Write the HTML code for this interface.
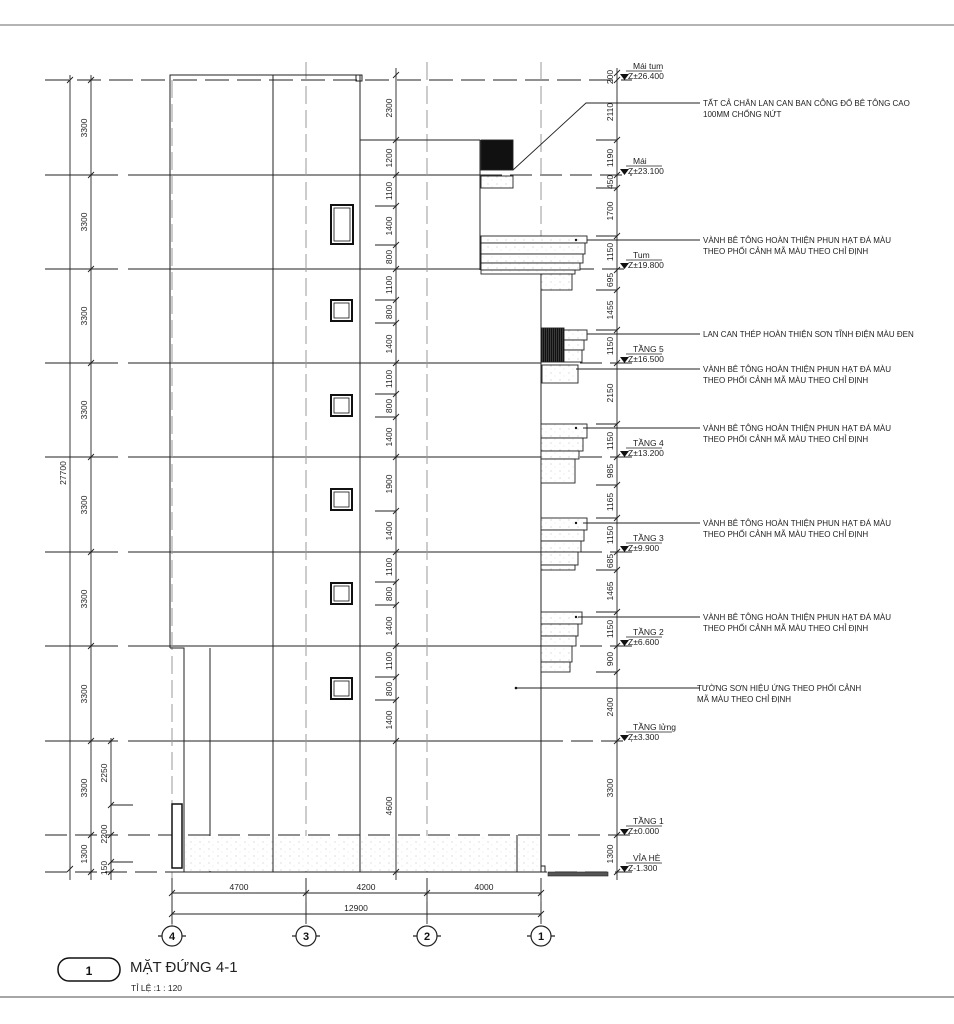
<!DOCTYPE html>
<html><head><meta charset="utf-8"><style>
html,body{margin:0;padding:0;background:#fff;}
svg{display:block;font-family:"Liberation Sans",sans-serif;}
</style></head><body>
<svg width="954" height="1024" viewBox="0 0 954 1024" xmlns="http://www.w3.org/2000/svg">
<defs>
<pattern id="dots" width="9" height="7" patternUnits="userSpaceOnUse"><rect width="9" height="7" fill="#fff"/><circle cx="2" cy="2" r="0.5" fill="#aaa"/><circle cx="6" cy="5" r="0.4" fill="#bbb"/></pattern>
<pattern id="blk" width="2" height="4" patternUnits="userSpaceOnUse"><rect width="2" height="4" fill="#111"/><rect width="0.6" height="4" fill="#555"/></pattern>
</defs>
<!-- frame -->
<line x1="0" y1="25" x2="954" y2="25" stroke="#888" stroke-width="1.2"/>
<line x1="0" y1="997" x2="954" y2="997" stroke="#888" stroke-width="1.5"/>

<g stroke="#222" stroke-width="1" fill="none">
<!-- level lines -->
<line x1="45" y1="80" x2="632" y2="80" stroke-dasharray="24,8"/>
<g>
<line x1="45" y1="175" x2="118" y2="175"/><line x1="128" y1="175" x2="480" y2="175"/><line x1="480" y1="175" x2="632" y2="175" stroke-dasharray="22,8"/>
<line x1="45" y1="269" x2="118" y2="269"/><line x1="128" y1="269" x2="541" y2="269"/><line x1="572" y1="269" x2="632" y2="269" stroke-dasharray="22,8"/>
<line x1="45" y1="363" x2="118" y2="363"/><line x1="128" y1="363" x2="541" y2="363"/><line x1="580" y1="363" x2="632" y2="363" stroke-dasharray="22,8"/>
<line x1="45" y1="457" x2="118" y2="457"/><line x1="128" y1="457" x2="541" y2="457"/><line x1="580" y1="457" x2="632" y2="457" stroke-dasharray="22,8"/>
<line x1="45" y1="552" x2="118" y2="552"/><line x1="128" y1="552" x2="541" y2="552"/><line x1="580" y1="552" x2="632" y2="552" stroke-dasharray="22,8"/>
<line x1="45" y1="646" x2="118" y2="646"/><line x1="128" y1="646" x2="541" y2="646"/><line x1="580" y1="646" x2="632" y2="646" stroke-dasharray="22,8"/>
<line x1="45" y1="741" x2="118" y2="741"/><line x1="128" y1="741" x2="541" y2="741"/><line x1="541" y1="741" x2="632" y2="741" stroke-dasharray="22,8"/>
<line x1="45" y1="835" x2="118" y2="835" stroke-dasharray="22,8"/><line x1="128" y1="835" x2="632" y2="835" stroke-dasharray="22,8"/>
<line x1="45" y1="872" x2="632" y2="872" stroke-dasharray="22,8"/>
</g>
<!-- grid dashed -->
<g stroke="#999" stroke-dasharray="18,6">
<line x1="306" y1="62" x2="306" y2="930"/><line x1="427" y1="62" x2="427" y2="930"/><line x1="541" y1="62" x2="541" y2="930"/><line x1="172" y1="80" x2="172" y2="930"/>
</g>
<!-- building -->
<polyline points="170,648 170,75 360,75 360,870"/>
<rect x="356" y="75" width="6" height="6"/>
<line x1="273" y1="75" x2="273" y2="872"/>
<polyline points="170,648 184,648 184,872"/>
<line x1="210" y1="648" x2="210" y2="872"/>
<line x1="360" y1="140" x2="480" y2="140"/>
<line x1="480" y1="140" x2="480" y2="270"/>
<line x1="541" y1="270" x2="541" y2="872"/>
<line x1="170" y1="872" x2="541" y2="872"/>
</g>
<!-- ground hatch -->
<rect x="185" y="836" width="355" height="35" fill="url(#dots)"/>
<g stroke="#222" fill="none"><line x1="273" y1="835" x2="273" y2="872"/><line x1="360" y1="835" x2="360" y2="872"/><line x1="517" y1="835" x2="517" y2="872"/></g>
<rect x="172" y="804" width="10" height="64" fill="#fff" stroke="#111" stroke-width="1.5"/>
<rect x="548" y="872" width="60" height="4" fill="#555" stroke="#222" stroke-width="0.6"/>
<polyline points="541,866 545,866 545,872" fill="none" stroke="#222"/>

<!-- windows -->
<g fill="#fff" stroke="#111">
<rect x="331" y="205" width="22" height="39" stroke-width="2"/><rect x="334" y="208" width="16" height="33" stroke-width="0.8"/>
<rect x="331" y="300" width="21" height="21" stroke-width="2"/><rect x="334" y="303" width="15" height="15" stroke-width="0.8"/>
<rect x="331" y="395" width="21" height="21" stroke-width="2"/><rect x="334" y="398" width="15" height="15" stroke-width="0.8"/>
<rect x="331" y="489" width="21" height="21" stroke-width="2"/><rect x="334" y="492" width="15" height="15" stroke-width="0.8"/>
<rect x="331" y="583" width="21" height="21" stroke-width="2"/><rect x="334" y="586" width="15" height="15" stroke-width="0.8"/>
<rect x="331" y="678" width="21" height="21" stroke-width="2"/><rect x="334" y="681" width="15" height="15" stroke-width="0.8"/>
</g>

<!-- balconies -->
<g stroke="#222" stroke-width="0.9" fill="url(#dots)">
<rect x="481" y="140" width="32" height="30" fill="#111"/>
<rect x="481" y="176" width="32" height="12"/>
<rect x="481" y="236" width="106" height="7"/><rect x="481" y="243" width="104" height="11"/><rect x="481" y="254" width="102" height="9"/><rect x="481" y="263" width="99" height="7"/><rect x="481" y="270" width="94" height="4"/>
<rect x="541" y="274" width="31" height="16"/>
<rect x="541" y="328" width="23" height="34" fill="url(#blk)"/>
<rect x="564" y="330" width="23" height="10"/><rect x="564" y="340" width="20" height="10"/><rect x="564" y="350" width="18" height="12"/>
<rect x="542" y="365" width="36" height="18"/>
<rect x="541" y="424" width="46" height="14"/><rect x="541" y="438" width="42" height="13"/><rect x="541" y="451" width="38" height="8"/><rect x="541" y="459" width="34" height="24"/>
<rect x="541" y="518" width="46" height="12"/><rect x="541" y="530" width="43" height="11"/><rect x="541" y="541" width="40" height="11"/><rect x="541" y="552" width="37" height="13"/><rect x="541" y="565" width="34" height="5"/>
<rect x="541" y="612" width="41" height="12"/><rect x="541" y="624" width="37" height="12"/><rect x="541" y="636" width="35" height="10"/><rect x="541" y="646" width="31" height="16"/><rect x="541" y="662" width="29" height="10"/>
</g>

<!-- dimension lines -->
<g stroke="#222" stroke-width="0.9" fill="none">
<line x1="70" y1="75" x2="70" y2="880"/><line x1="91" y1="75" x2="91" y2="880"/><line x1="111" y1="738" x2="111" y2="880"/>
<line x1="396" y1="68" x2="396" y2="880"/><line x1="617" y1="68" x2="617" y2="880"/>
<line x1="172" y1="893" x2="541" y2="893"/><line x1="172" y1="914" x2="541" y2="914"/>
<line x1="172" y1="878" x2="172" y2="924"/><line x1="306" y1="878" x2="306" y2="924"/><line x1="427" y1="878" x2="427" y2="924"/><line x1="541" y1="878" x2="541" y2="924"/>
<line x1="111" y1="805" x2="133" y2="805"/><line x1="111" y1="862" x2="133" y2="862"/>
<!-- ticks -->
<path d="M67,83 l6,-6 M67,872 l6,-6 M88,83 l6,-6 M88,178 l6,-6 M88,272 l6,-6 M88,366 l6,-6 M88,460 l6,-6 M88,555 l6,-6 M88,649 l6,-6 M88,744 l6,-6 M88,838 l6,-6 M88,875 l6,-6 M108,744 l6,-6 M108,808 l6,-6 M108,838 l6,-6 M108,865 l6,-6 M108,875 l6,-6"/>
<path d="M393,78 l6,-6 M393,143 l6,-6 M393,178 l6,-6 M393,209 l6,-6 M393,248 l6,-6 M393,272 l6,-6 M393,303 l6,-6 M393,326 l6,-6 M393,366 l6,-6 M393,397 l6,-6 M393,420 l6,-6 M393,460 l6,-6 M393,514 l6,-6 M393,555 l6,-6 M393,585 l6,-6 M393,608 l6,-6 M393,649 l6,-6 M393,680 l6,-6 M393,703 l6,-6 M393,744 l6,-6 M393,875 l6,-6"/>
<path d="M614,76 l6,-6 M614,83 l6,-6 M614,143 l6,-6 M614,178 l6,-6 M614,191 l6,-6 M614,239 l6,-6 M614,273 l6,-6 M614,293 l6,-6 M614,333 l6,-6 M614,366 l6,-6 M614,427 l6,-6 M614,460 l6,-6 M614,488 l6,-6 M614,521 l6,-6 M614,555 l6,-6 M614,573 l6,-6 M614,615 l6,-6 M614,649 l6,-6 M614,675 l6,-6 M614,744 l6,-6 M614,838 l6,-6 M614,875 l6,-6"/>
<path d="M169,896 l6,-6 M303,896 l6,-6 M424,896 l6,-6 M538,896 l6,-6 M169,917 l6,-6 M538,917 l6,-6"/>
<!-- dim extension stubs right -->
<path d="M596,140 h21 M596,188 h21 M596,236 h21 M596,290 h21 M596,330 h21 M596,424 h21 M596,485 h21 M596,518 h21 M596,570 h21 M596,612 h21 M596,672 h21 M375,206 h21 M375,245 h21 M375,300 h21 M375,323 h21 M375,394 h21 M375,417 h21 M375,511 h21 M375,582 h21 M375,605 h21 M375,677 h21 M375,700 h21"/>
</g>

<!-- dim labels -->
<g font-size="8.5" fill="#222" text-anchor="middle">
<text transform="translate(66,473) rotate(-90)">27700</text>
<text transform="translate(87,128) rotate(-90)">3300</text>
<text transform="translate(87,222) rotate(-90)">3300</text>
<text transform="translate(87,316) rotate(-90)">3300</text>
<text transform="translate(87,410) rotate(-90)">3300</text>
<text transform="translate(87,505) rotate(-90)">3300</text>
<text transform="translate(87,599) rotate(-90)">3300</text>
<text transform="translate(87,694) rotate(-90)">3300</text>
<text transform="translate(87,788) rotate(-90)">3300</text>
<text transform="translate(87,854) rotate(-90)">1300</text>
<text transform="translate(107,773) rotate(-90)">2250</text>
<text transform="translate(107,834) rotate(-90)">2200</text>
<text transform="translate(107,868) rotate(-90)">150</text>
<text transform="translate(392,108) rotate(-90)">2300</text>
<text transform="translate(392,158) rotate(-90)">1200</text>
<text transform="translate(392,191) rotate(-90)">1100</text>
<text transform="translate(392,226) rotate(-90)">1400</text>
<text transform="translate(392,257) rotate(-90)">800</text>
<text transform="translate(392,285) rotate(-90)">1100</text>
<text transform="translate(392,312) rotate(-90)">800</text>
<text transform="translate(392,344) rotate(-90)">1400</text>
<text transform="translate(392,379) rotate(-90)">1100</text>
<text transform="translate(392,406) rotate(-90)">800</text>
<text transform="translate(392,437) rotate(-90)">1400</text>
<text transform="translate(392,484) rotate(-90)">1900</text>
<text transform="translate(392,531) rotate(-90)">1400</text>
<text transform="translate(392,567) rotate(-90)">1100</text>
<text transform="translate(392,594) rotate(-90)">800</text>
<text transform="translate(392,626) rotate(-90)">1400</text>
<text transform="translate(392,661) rotate(-90)">1100</text>
<text transform="translate(392,689) rotate(-90)">800</text>
<text transform="translate(392,720) rotate(-90)">1400</text>
<text transform="translate(392,806) rotate(-90)">4600</text>
<text transform="translate(613,77) rotate(-90)">200</text>
<text transform="translate(613,112) rotate(-90)">2110</text>
<text transform="translate(613,158) rotate(-90)">1190</text>
<text transform="translate(613,182) rotate(-90)">450</text>
<text transform="translate(613,211) rotate(-90)">1700</text>
<text transform="translate(613,252) rotate(-90)">1150</text>
<text transform="translate(613,280) rotate(-90)">695</text>
<text transform="translate(613,310) rotate(-90)">1455</text>
<text transform="translate(613,346) rotate(-90)">1150</text>
<text transform="translate(613,393) rotate(-90)">2150</text>
<text transform="translate(613,441) rotate(-90)">1150</text>
<text transform="translate(613,471) rotate(-90)">985</text>
<text transform="translate(613,502) rotate(-90)">1165</text>
<text transform="translate(613,535) rotate(-90)">1150</text>
<text transform="translate(613,561) rotate(-90)">685</text>
<text transform="translate(613,591) rotate(-90)">1465</text>
<text transform="translate(613,629) rotate(-90)">1150</text>
<text transform="translate(613,659) rotate(-90)">900</text>
<text transform="translate(613,707) rotate(-90)">2400</text>
<text transform="translate(613,788) rotate(-90)">3300</text>
<text transform="translate(613,854) rotate(-90)">1300</text>
<text x="239" y="890">4700</text><text x="366" y="890">4200</text><text x="484" y="890">4000</text><text x="356" y="911">12900</text>
</g>

<!-- level markers -->
<g font-size="8.5" fill="#222">
<g stroke="#222" stroke-width="0.8">
<line x1="626" y1="71" x2="662" y2="71"/><line x1="626" y1="166" x2="662" y2="166"/><line x1="626" y1="260" x2="662" y2="260"/><line x1="626" y1="354" x2="662" y2="354"/><line x1="626" y1="448" x2="662" y2="448"/><line x1="626" y1="543" x2="662" y2="543"/><line x1="626" y1="637" x2="662" y2="637"/><line x1="626" y1="732" x2="672" y2="732"/><line x1="626" y1="826" x2="662" y2="826"/><line x1="626" y1="863" x2="662" y2="863"/>
</g>
<g fill="#111">
<path d="M620,74 h9 l-4.5,6z"/><path d="M620,169 h9 l-4.5,6z"/><path d="M620,263 h9 l-4.5,6z"/><path d="M620,357 h9 l-4.5,6z"/><path d="M620,451 h9 l-4.5,6z"/><path d="M620,546 h9 l-4.5,6z"/><path d="M620,640 h9 l-4.5,6z"/><path d="M620,735 h9 l-4.5,6z"/><path d="M620,829 h9 l-4.5,6z"/><path d="M620,866 h9 l-4.5,6z"/>
</g>
<text x="633" y="69">Mái tum</text><text x="628" y="79">Z±26.400</text>
<text x="633" y="164">Mái</text><text x="628" y="174">Z±23.100</text>
<text x="633" y="258">Tum</text><text x="628" y="268">Z±19.800</text>
<text x="633" y="352">TẦNG 5</text><text x="628" y="362">Z±16.500</text>
<text x="633" y="446">TẦNG 4</text><text x="628" y="456">Z±13.200</text>
<text x="633" y="541">TẦNG 3</text><text x="628" y="551">Z±9.900</text>
<text x="633" y="635">TẦNG 2</text><text x="628" y="645">Z±6.600</text>
<text x="633" y="730">TẦNG lửng</text><text x="628" y="740">Z±3.300</text>
<text x="633" y="824">TẦNG 1</text><text x="628" y="834">Z±0.000</text>
<text x="633" y="861">VỈA HÈ</text><text x="628" y="871">Z-1.300</text>
</g>

<!-- annotations -->
<g stroke="#222" stroke-width="0.9" fill="none">
<polyline points="513,170 586,103 700,103"/>
<line x1="587" y1="240" x2="700" y2="240"/>
<line x1="587" y1="334" x2="700" y2="334"/>
<line x1="576" y1="369" x2="700" y2="369"/>
<line x1="583" y1="428" x2="700" y2="428"/>
<line x1="583" y1="523" x2="700" y2="523"/>
<line x1="578" y1="617" x2="700" y2="617"/>
<line x1="516" y1="688" x2="700" y2="688"/>
</g>
<g fill="#111"><circle cx="516" cy="688" r="1.3"/><circle cx="576" cy="240" r="1.2"/><circle cx="576" cy="428" r="1.2"/><circle cx="576" cy="523" r="1.2"/><circle cx="576" cy="617" r="1.2"/></g>
<g font-size="8" fill="#222">
<text x="703" y="106">TẤT CẢ CHÂN LAN CAN BAN CÔNG ĐỔ BÊ TÔNG CAO</text><text x="703" y="117">100MM CHỐNG NỨT</text>
<text x="703" y="243">VÀNH BÊ TÔNG HOÀN THIỆN PHUN HẠT ĐÁ MÀU</text><text x="703" y="254">THEO PHỐI CẢNH MÃ MÀU THEO CHỈ ĐỊNH</text>
<text x="703" y="337">LAN CAN THÉP HOÀN THIỆN SƠN TĨNH ĐIỆN MÀU ĐEN</text>
<text x="703" y="372">VÀNH BÊ TÔNG HOÀN THIỆN PHUN HẠT ĐÁ MÀU</text><text x="703" y="383">THEO PHỐI CẢNH MÃ MÀU THEO CHỈ ĐỊNH</text>
<text x="703" y="431">VÀNH BÊ TÔNG HOÀN THIỆN PHUN HẠT ĐÁ MÀU</text><text x="703" y="442">THEO PHỐI CẢNH MÃ MÀU THEO CHỈ ĐỊNH</text>
<text x="703" y="526">VÀNH BÊ TÔNG HOÀN THIỆN PHUN HẠT ĐÁ MÀU</text><text x="703" y="537">THEO PHỐI CẢNH MÃ MÀU THEO CHỈ ĐỊNH</text>
<text x="703" y="620">VÀNH BÊ TÔNG HOÀN THIỆN PHUN HẠT ĐÁ MÀU</text><text x="703" y="631">THEO PHỐI CẢNH MÃ MÀU THEO CHỈ ĐỊNH</text>
<text x="697" y="691">TƯỜNG SƠN HIỆU ỨNG THEO PHỐI CẢNH</text><text x="697" y="702">MÃ MÀU THEO CHỈ ĐỊNH</text>
</g>

<!-- grid bubbles -->
<g stroke="#222" stroke-width="1.2" fill="#fff">
<circle cx="172" cy="936" r="10"/><circle cx="306" cy="936" r="10"/><circle cx="427" cy="936" r="10"/><circle cx="541" cy="936" r="10"/>
<path d="M158,936 h4 M182,936 h4 M292,936 h4 M316,936 h4 M413,936 h4 M437,936 h4 M527,936 h4 M551,936 h4" fill="none"/>
</g>
<g font-size="11" font-weight="bold" text-anchor="middle" fill="#111">
<text x="172" y="940">4</text><text x="306" y="940">3</text><text x="427" y="940">2</text><text x="541" y="940">1</text>
</g>

<!-- title -->
<rect x="58" y="958" width="62" height="23" rx="11" fill="#fff" stroke="#111" stroke-width="1.5"/>
<text x="89" y="975" font-size="12" font-weight="bold" text-anchor="middle" fill="#111">1</text>
<text x="130" y="972" font-size="15" fill="#222">MẶT ĐỨNG 4-1</text>
<text x="131" y="991" font-size="8.5" fill="#222">TỈ LỆ :1 : 120</text>
</svg>
</body></html>
